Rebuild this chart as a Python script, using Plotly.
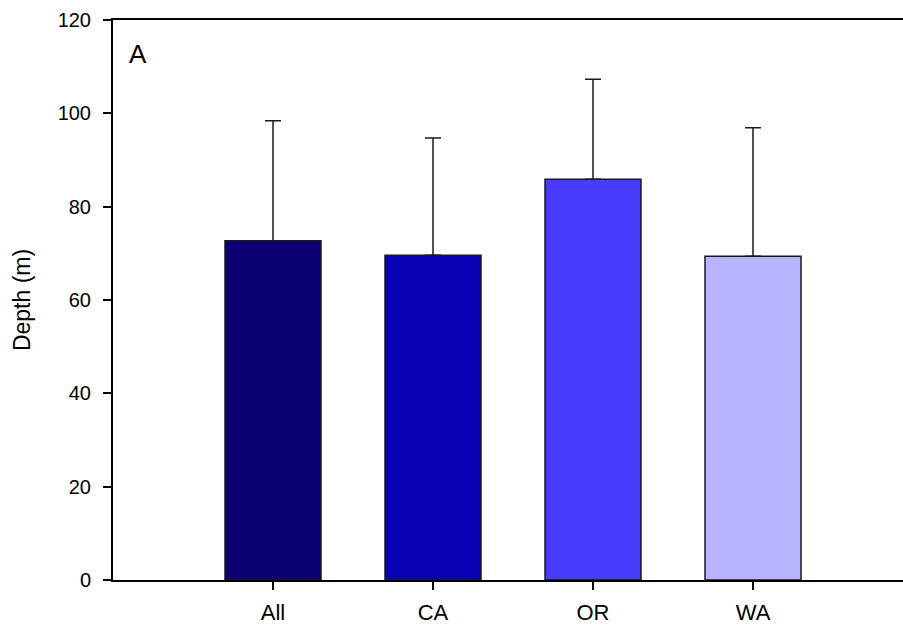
import plotly.graph_objects as go

categories = ["All", "CA", "OR", "WA"]
means = [72.7, 69.6, 85.9, 69.4]
errors = [25.7, 25.1, 21.4, 27.5]
colors = ["#0a0073", "#0a00b4", "#4a3cff", "#b7b3ff"]
y_ticks = [0, 20, 40, 60, 80, 100, 120]

fig = go.Figure()
fig.add_trace(go.Bar(
    x=categories, y=means, width=0.6,
    marker=dict(color=colors, line=dict(color="#1a1a1a", width=1.5)),
    error_y=dict(type="data", array=errors, arrayminus=[0]*len(errors), symmetric=False,
                 color="#1a1a1a", thickness=1.5, width=8),
    showlegend=False,
))

fig.add_annotation(text="A", xref="paper", yref="paper", x=0.018, y=0.94,
                   xanchor="left", yanchor="middle", showarrow=False,
                   font=dict(family="Liberation Sans, Arial", size=26, color="black"))

fig.update_layout(
    width=903, height=625,
    margin=dict(l=113, r=0, t=20, b=45),
    plot_bgcolor="white", paper_bgcolor="white",
    font=dict(family="Liberation Sans, Arial", size=20, color="black"),
    xaxis=dict(range=[-1, 3.9375], showline=True, linecolor="black", linewidth=2,
               mirror=True, ticks="outside", ticklen=8, tickwidth=1.5, tickcolor="black",
               ticklabelstandoff=4, automargin=False, tickfont=dict(size=22),
               showgrid=False, zeroline=False),
    yaxis=dict(range=[0, 120], tickvals=y_ticks, showline=True, linecolor="black",
               linewidth=2, ticks="outside", ticklen=8, tickwidth=1.5, tickcolor="black",
               ticklabelstandoff=8, automargin=False,
               showgrid=False, zeroline=False,
               title=dict(text="Depth (m)", font=dict(size=23), standoff=21)),
)

fig.write_html("out.html", config={"displayModeBar": False},
               post_script="document.body.style.margin='0';document.body.style.overflow='hidden';")
